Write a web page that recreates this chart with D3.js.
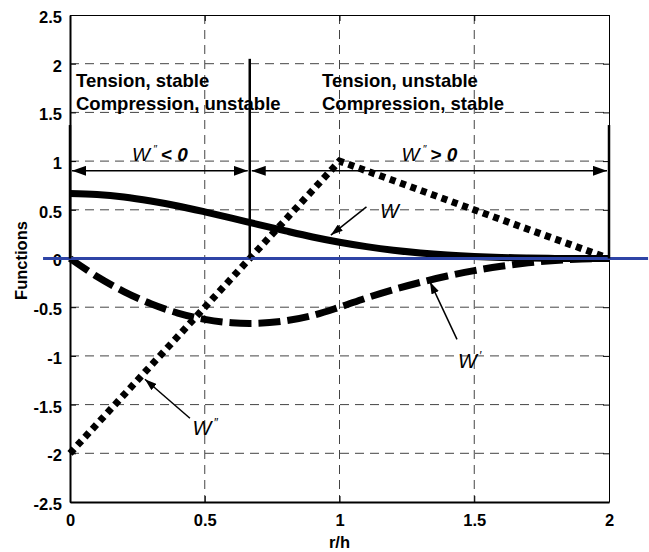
<!DOCTYPE html>
<html><head><meta charset="utf-8">
<script src="https://cdn.jsdelivr.net/npm/d3@7"></script>
<style>
html,body{margin:0;padding:0;background:#fff;}
svg{display:block;font-family:"Liberation Sans",Arial,sans-serif;}
</style></head>
<body>
<script>
// ---- data ----
const rh = [0,0.1,0.2,0.3,0.4,0.5,0.6,0.7,0.8,0.9,1.0,1.1,1.2,1.3,1.4,1.5,1.6,1.7,1.8,1.9,2.0];
const W  = [0.667,0.657,0.631,0.590,0.539,0.479,0.415,0.348,0.283,0.221,0.167,0.122,0.085,0.057,0.036,0.021,0.011,0.005,0.001,0.0002,0];
const W1 = [0,-0.185,-0.34,-0.465,-0.56,-0.625,-0.66,-0.665,-0.64,-0.585,-0.5,-0.405,-0.32,-0.245,-0.18,-0.125,-0.08,-0.045,-0.02,-0.005,0];
const rh2 = [0,0.667,1,2];
const W2  = [-2,0,1,0];
const xTicks = [0,0.5,1,1.5,2];
const yTicks = [-2.5,-2,-1.5,-1,-0.5,0,0.5,1,1.5,2,2.5];
const xTickLabels = ["0","0.5","1","1.5","2"];
const yTickLabels = ["-2.5","-2","-1.5","-1","-0.5","0","0.5","1","1.5","2","2.5"];
const boundaries = [{x:0,top:1.37},{x:0.667,top:2.05},{x:2,top:1.37}];
const spans = [{x0:0,x1:0.667,y:0.9,label:"<"},{x0:0.667,x1:2,y:0.9,label:">"}];
const zeroLine = [-0.1,2.145];

const Wd=649,Hd=552;
const m={l:70,r:40,t:15,b:50};
const svg=d3.select("body").append("svg").attr("width",Wd).attr("height",Hd);
const x=d3.scaleLinear().domain([0,2]).range([m.l,Wd-m.r]);
const y=d3.scaleLinear().domain([-2.5,2.5]).range([Hd-m.b,m.t]);

const defs=svg.append("defs");
defs.append("marker").attr("id","ah").attr("viewBox","0 0 14 10").attr("refX",14).attr("refY",5)
  .attr("markerWidth",14).attr("markerHeight",10).attr("markerUnits","userSpaceOnUse").attr("orient","auto-start-reverse")
  .append("path").attr("d","M0,0L14,5L0,10Z").attr("fill","#000");
defs.append("marker").attr("id","ah2").attr("viewBox","0 0 12 8").attr("refX",12).attr("refY",4)
  .attr("markerWidth",12).attr("markerHeight",8).attr("markerUnits","userSpaceOnUse").attr("orient","auto")
  .append("path").attr("d","M0,0L12,4L0,8Z").attr("fill","#000");

// grid
svg.append("g").selectAll("line").data(xTicks.slice(1,-1)).join("line")
  .attr("x1",d=>x(d)).attr("x2",d=>x(d)).attr("y1",y(2.5)).attr("y2",y(-2.5))
  .attr("stroke","#444").attr("stroke-width",1).attr("stroke-dasharray","9,6");
svg.append("g").selectAll("line").data(yTicks.slice(1,-1)).join("line")
  .attr("x1",x(0)).attr("x2",x(2)).attr("y1",d=>y(d)).attr("y2",d=>y(d))
  .attr("stroke","#444").attr("stroke-width",1).attr("stroke-dasharray","9,6");

// axes
const ax=svg.append("g");
ax.append("g").attr("transform",`translate(0,${y(-2.5)})`)
  .call(d3.axisBottom(x).tickValues(xTicks).tickFormat((d,i)=>xTickLabels[i]).tickSizeInner(-6).tickSizeOuter(0).tickPadding(12))
  .call(g=>{g.select(".domain").attr("stroke-width",2);g.selectAll("text").attr("font-size",16.5).attr("font-weight","bold").attr("fill","#000");});
ax.append("g").attr("transform",`translate(${x(0)},0)`)
  .call(d3.axisLeft(y).tickValues(yTicks).tickFormat((d,i)=>yTickLabels[i]).tickSizeInner(-6).tickSizeOuter(0).tickPadding(8))
  .call(g=>{g.select(".domain").attr("stroke-width",2);g.selectAll("text").attr("font-size",16.5).attr("font-weight","bold").attr("fill","#000").attr("dy","0.45em");});
ax.append("g").attr("transform",`translate(0,${y(2.5)})`)
  .call(d3.axisTop(x).tickValues(xTicks).tickFormat("").tickSizeInner(-6).tickSizeOuter(0))
  .call(g=>g.select(".domain").attr("stroke-width",1));
ax.append("g").attr("transform",`translate(${x(2)},0)`)
  .call(d3.axisRight(y).tickValues(yTicks).tickFormat("").tickSizeInner(-6).tickSizeOuter(0))
  .call(g=>g.select(".domain").attr("stroke-width",1));

// curves
const line=d3.line().curve(d3.curveCatmullRom);
svg.append("path").attr("d",line(rh.map((d,i)=>[x(d),y(W[i])])))
  .attr("fill","none").attr("stroke","#000").attr("stroke-width",7);
svg.append("path").attr("d",line(rh.map((d,i)=>[x(d),y(W1[i])])))
  .attr("fill","none").attr("stroke","#000").attr("stroke-width",7).attr("stroke-dasharray","22,7");
svg.append("path").attr("d",d3.line()(rh2.map((d,i)=>[x(d),y(W2[i])])))
  .attr("fill","none").attr("stroke","#000").attr("stroke-width",7).attr("stroke-dasharray","6,5");

// zero line
svg.append("line").attr("x1",x(zeroLine[0])).attr("x2",x(zeroLine[1])).attr("y1",y(0)).attr("y2",y(0))
  .attr("stroke","#2e44a6").attr("stroke-width",3.2);

// boundaries
svg.append("g").selectAll("line").data(boundaries).join("line")
  .attr("x1",d=>x(d.x)).attr("x2",d=>x(d.x)).attr("y1",y(0)).attr("y2",d=>y(d.top))
  .attr("stroke","#000").attr("stroke-width",2.5);

// span arrows
svg.append("g").selectAll("line").data(spans).join("line")
  .attr("x1",d=>x(d.x0)+2).attr("x2",d=>x(d.x1)-2).attr("y1",d=>y(d.y)).attr("y2",d=>y(d.y))
  .attr("stroke","#000").attr("stroke-width",1.5)
  .attr("marker-start","url(#ah)").attr("marker-end","url(#ah)");
const sl=svg.append("g").selectAll("text").data(spans).join("text")
  .attr("x",d=>x((d.x0+d.x1)/2)).attr("y",d=>y(d.y)-10).attr("text-anchor","middle").attr("font-size",19);
sl.append("tspan").attr("font-style","italic").text("W");
sl.append("tspan").attr("font-size",11).attr("dy",-8).attr("dx",3).attr("font-style","italic").text("\u2033");
sl.append("tspan").attr("dy",8).attr("dx",4).attr("font-weight","bold").attr("font-style","italic").text(d=>d.label+" 0");

// region texts
const rt=svg.append("g").attr("font-weight","bold").attr("font-size",18.5);
rt.append("text").attr("x",76).attr("y",87).text("Tension, stable");
rt.append("text").attr("x",76).attr("y",110).text("Compression, unstable");
rt.append("text").attr("x",322).attr("y",87).text("Tension, unstable");
rt.append("text").attr("x",322).attr("y",110).text("Compression, stable");

// curve labels with pointer arrows
const callouts=[
  {tx:1.15,ty:0.42,t:"W",p:"",ax0:1.10,ay0:0.53,ax1:0.968,ay1:0.24},
  {tx:1.44,ty:-1.12,t:"W",p:"\u2032",ax0:1.436,ay0:-0.83,ax1:1.336,ay1:-0.24},
  {tx:0.455,ty:-1.81,t:"W",p:"\u2033",ax0:0.445,ay0:-1.64,ax1:0.278,ay1:-1.24}
];
svg.append("g").selectAll("line").data(callouts).join("line")
  .attr("x1",d=>x(d.ax0)).attr("y1",d=>y(d.ay0)).attr("x2",d=>x(d.ax1)).attr("y2",d=>y(d.ay1))
  .attr("stroke","#000").attr("stroke-width",1.5).attr("marker-end","url(#ah2)");
const cl=svg.append("g").selectAll("text").data(callouts).join("text")
  .attr("x",d=>x(d.tx)).attr("y",d=>y(d.ty)).attr("font-size",20).attr("font-style","italic");
cl.append("tspan").text(d=>d.t);
cl.append("tspan").attr("font-size",12).attr("dy",-8).attr("dx",2).text(d=>d.p);

// axis titles
svg.append("text").attr("x",x(1)).attr("y",548).attr("text-anchor","middle")
  .attr("font-weight","bold").attr("font-size",16.5).text("r/h");
svg.append("text").attr("transform",`translate(27,${y(0)+2}) rotate(-90)`).attr("text-anchor","middle")
  .attr("font-weight","bold").attr("font-size",16.5).text("Functions");
</script>
</body></html>
